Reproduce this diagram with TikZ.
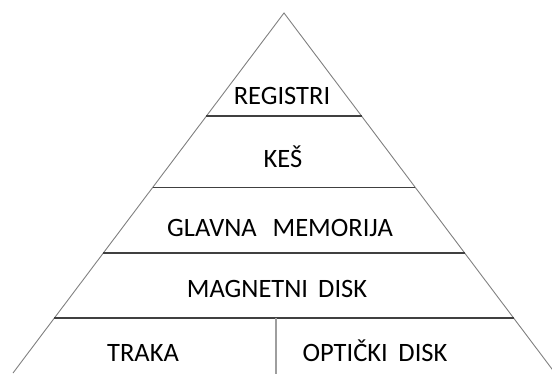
\documentclass[tikz,border=0pt]{standalone}
\usepackage{fontspec}
\setmainfont{Carlito}
\usetikzlibrary{calc}
\begin{document}
\begin{tikzpicture}[x=1pt,y=-1pt,
  side/.style={draw=black!50, line width=0.9pt},
  band/.style={draw=black!75, line width=1.3pt},
  divider/.style={draw=black!38, line width=2pt},
  lbl/.style={anchor=base, inner sep=0pt, font=\fontsize{26.5}{30}\selectfont}]
\useasboundingbox (0,0) rectangle (552,374);
\clip (0,0) rectangle (552,374);
\coordinate (A) at (284,13);
\coordinate (L) at (13,373);
\coordinate (R) at (555,373);
% sides
\draw[side] (L) -- (A) -- (R);
% bands
\coordinate (l1) at ($(A)!0.2861!(L)$); \coordinate (r1) at ($(A)!0.2861!(R)$);
\coordinate (l2) at ($(A)!0.4847!(L)$); \coordinate (r2) at ($(A)!0.4847!(R)$);
\coordinate (l3) at ($(A)!0.6667!(L)$); \coordinate (r3) at ($(A)!0.6667!(R)$);
\coordinate (l4) at ($(A)!0.8472!(L)$); \coordinate (r4) at ($(A)!0.8472!(R)$);
\draw[band] (l1) -- (r1);
\draw[band] (l2) -- (r2);
\draw[band] (l3) -- (r3);
\draw[band] (l4) -- (r4);
\coordinate (vt) at (276,318);
\coordinate (vb) at (276,374);
\draw[divider] (vt) -- (vb);
% labels
\node[lbl] (reg) at (282,105) {REGISTRI};
\node[lbl] (kes) at (283,168) {KEŠ};
\node[lbl] (gm) at (280,237) {GLAVNA\hspace{0.6em}MEMORIJA};
\node[lbl] (md) at (277,298) {MAGNETNI\hspace{0.38em}DISK};
\node[lbl] (tr) at (143,362) {TRAKA};
\node[lbl] (od) at (375,361) {OPTIČKI\hspace{0.4em}DISK};
\end{tikzpicture}
\end{document}
